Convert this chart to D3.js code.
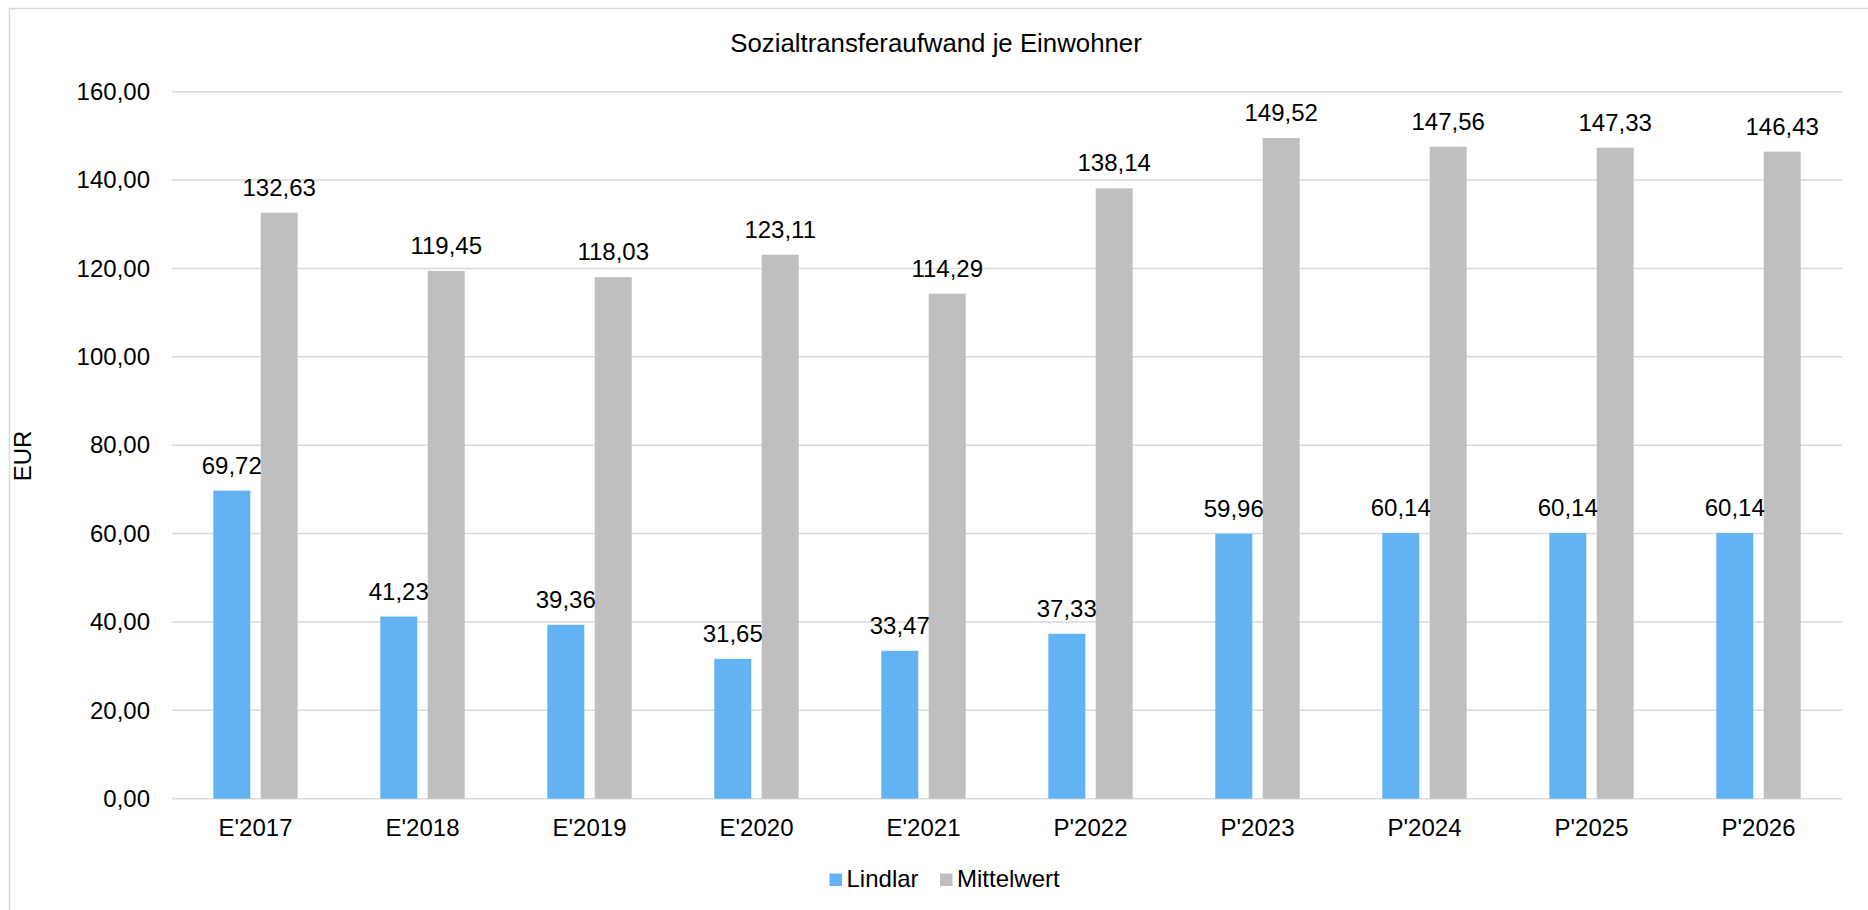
<!DOCTYPE html>
<html>
<head>
<meta charset="utf-8">
<script src="https://cdn.jsdelivr.net/npm/d3@7"></script>
<style>
  body { margin: 0; background: #fff; }
  text { font-family: "Liberation Sans", Arial, sans-serif; fill: #000; }
</style>
</head>
<body>
<script>
var categories = ["E'2017","E'2018","E'2019","E'2020","E'2021","P'2022","P'2023","P'2024","P'2025","P'2026"]
var lindlar = [69.72, 41.23, 39.36, 31.65, 33.47, 37.33, 59.96, 60.14, 60.14, 60.14]
var mittelwert = [132.63, 119.45, 118.03, 123.11, 114.29, 138.14, 149.52, 147.56, 147.33, 146.43]
var seriesNames = ["Lindlar", "Mittelwert"]
var yTicks = [0, 20, 40, 60, 80, 100, 120, 140, 160]

var width = 1868, height = 910
var colors = {"Lindlar": "#63b3f4", "Mittelwert": "#bfbfbf"}
var fs = 24
var fmt = function(v){ return d3.format(".2f")(v).replace(".", ",") }

var svg = d3.select("body").append("svg")
  .attr("width", width)
  .attr("height", height)

// chart frame, only left and top edges fall inside the picture
svg.append("rect")
  .attr("x", 9.5).attr("y", 8.5)
  .attr("width", 1900).attr("height", 1000)
  .attr("fill", "none")
  .attr("stroke", "#d9d9d9")
  .attr("stroke-width", 1.5)

var y = d3.scaleLinear().domain([0, 160]).range([798.7, 91.7])
var x0 = d3.scaleBand().domain(categories).range([172, 1842])
var x1 = d3.scaleBand().domain(seriesNames).range([41.3, 125.7]).paddingInner(0.22)

// gridlines
svg.append("g").selectAll("line")
  .data(yTicks)
  .enter().append("line")
  .attr("x1", 172).attr("x2", 1842)
  .attr("y1", function(d){ return y(d) })
  .attr("y2", function(d){ return y(d) })
  .attr("stroke", "#d9d9d9")
  .attr("stroke-width", 1.5)

// y axis labels
var yAxis = d3.axisLeft(y).tickValues(yTicks).tickFormat(fmt).tickSize(0).tickPadding(0)
var gy = svg.append("g").attr("transform", "translate(150,0)").call(yAxis)
gy.select(".domain").remove()
gy.selectAll("text").attr("font-size", fs).attr("font-family", "Liberation Sans, Arial, sans-serif").attr("fill", "#000")

// x axis labels
var xAxis = d3.axisBottom(x0).tickSize(0).tickPadding(0)
var gx = svg.append("g").attr("transform", "translate(0,819)").call(xAxis)
gx.select(".domain").remove()
gx.selectAll("text").attr("font-size", fs).attr("font-family", "Liberation Sans, Arial, sans-serif").attr("fill", "#000")

var rows = categories.map(function(c, i){
  return {cat: c, values: [{name: "Lindlar", v: lindlar[i]}, {name: "Mittelwert", v: mittelwert[i]}]}
})

var groups = svg.append("g").selectAll("g")
  .data(rows)
  .enter().append("g")
  .attr("transform", function(d){ return "translate(" + x0(d.cat) + ",0)" })

groups.selectAll("rect")
  .data(function(d){ return d.values })
  .enter().append("rect")
  .attr("x", function(d){ return x1(d.name) })
  .attr("width", x1.bandwidth())
  .attr("y", function(d){ return y(d.v) })
  .attr("height", function(d){ return y(0) - y(d.v) })
  .attr("fill", function(d){ return colors[d.name] })

groups.selectAll("text.val")
  .data(function(d){ return d.values })
  .enter().append("text")
  .attr("class", "val")
  .attr("x", function(d){ return x1(d.name) + x1.bandwidth() / 2 })
  .attr("y", function(d){ return y(d.v) - 17 })
  .attr("text-anchor", "middle")
  .attr("font-size", fs)
  .text(function(d){ return fmt(d.v) })

// title
svg.append("text")
  .attr("x", 936).attr("y", 51.5)
  .attr("text-anchor", "middle")
  .attr("font-size", 25.8)
  .text("Sozialtransferaufwand je Einwohner")

// y title
svg.append("text")
  .attr("transform", "translate(31,456) rotate(-90)")
  .attr("text-anchor", "middle")
  .attr("font-size", fs)
  .text("EUR")

// legend
var legendX = [829.5, 940]
var leg = svg.append("g").selectAll("g")
  .data(seriesNames)
  .enter().append("g")
  .attr("transform", function(d, i){ return "translate(" + legendX[i] + ",873.5)" })
leg.append("rect").attr("width", 12.5).attr("height", 12.5).attr("fill", function(d){ return colors[d] })
leg.append("text").attr("x", 17).attr("y", 13.2).attr("font-size", fs).text(function(d){ return d })
</script>
</body>
</html>
